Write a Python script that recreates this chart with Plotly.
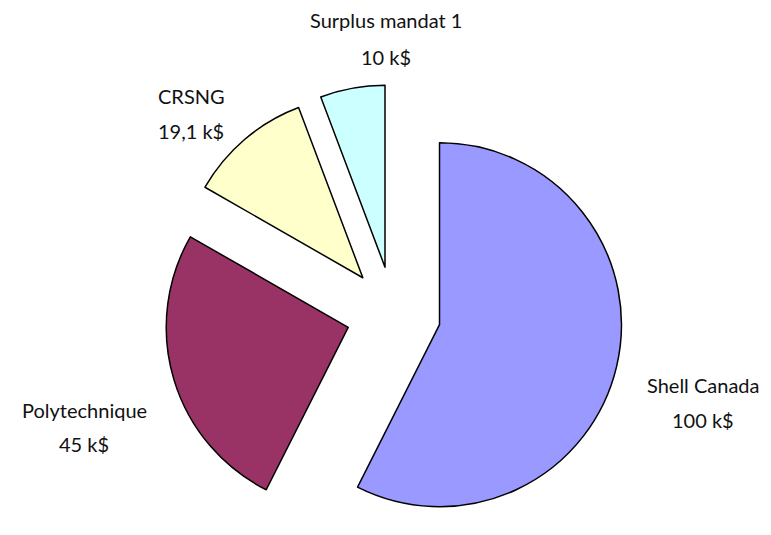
import plotly.graph_objects as go

# Data
labels = ["Shell Canada", "Polytechnique", "CRSNG", "Surplus mandat 1"]
values = [100, 45, 19.1, 10]
value_texts = ["100 k$", "45 k$", "19,1 k$", "10 k$"]
colors = ["#9999FF", "#993366", "#FFFFCC", "#CCFFFF"]
pulls = [0.26, 0.26, 0.26, 0.26]

W, H = 771, 535
OFF = 8  # default page body margin
# Label positions in the page (pixels): x, name line y, value line y
label_px = [(703, 385, 420), (84, 410, 444), (191, 96, 131), (386, 20, 57)]

fig = go.Figure(go.Pie(
    labels=labels,
    values=values,
    sort=False,
    direction="clockwise",
    rotation=0,
    pull=pulls,
    marker=dict(colors=colors, line=dict(color="black", width=1.5)),
    textinfo="none",
    hoverinfo="label+value",
    showlegend=False,
    domain=dict(x=[0.19, 0.81], y=[0.0, 0.857]),
))

font = dict(family="Lato, Open Sans, sans-serif", size=20, color="#111111")
for name, vt, (px, py1, py2) in zip(labels, value_texts, label_px):
    fx = (px - OFF) / W
    fig.add_annotation(text=name, x=fx, y=1 - (py1 - OFF) / H, xref="paper", yref="paper",
                       showarrow=False, font=font, xanchor="center", yanchor="middle")
    fig.add_annotation(text=vt, x=fx, y=1 - (py2 - OFF) / H, xref="paper", yref="paper",
                       showarrow=False, font=font, xanchor="center", yanchor="middle")

fig.update_layout(
    width=W, height=H,
    margin=dict(l=0, r=0, t=0, b=0),
    paper_bgcolor="white",
    plot_bgcolor="white",
)

fig.write_html("out.html")
